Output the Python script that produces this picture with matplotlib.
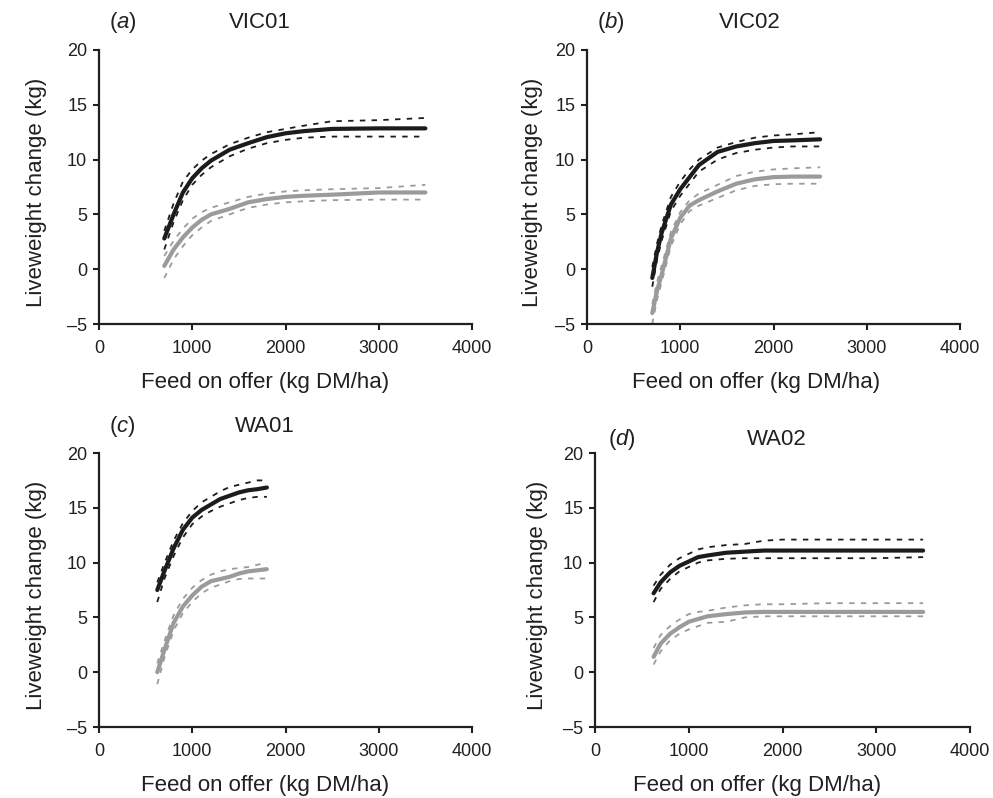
import matplotlib
matplotlib.use("Agg")
import matplotlib.pyplot as plt

plt.rcParams["font.family"] = ["Liberation Sans", "DejaVu Sans"]
plt.rcParams["mathtext.fontset"] = "custom"
plt.rcParams["mathtext.it"] = "Liberation Sans:italic"
plt.rcParams["mathtext.rm"] = "Liberation Sans"

# ---- VIC01 ----
vic01_x = [700, 800, 900, 1000, 1100, 1200, 1400, 1600, 1800, 2000, 2200, 2500, 3000, 3500]
vic01_black = [2.8, 5.0, 7.0, 8.3, 9.2, 9.9, 10.9, 11.5, 12.05, 12.4, 12.6, 12.8, 12.85, 12.85]
vic01_black_hi = [3.5, 6.0, 8.0, 9.1, 9.9, 10.5, 11.4, 12.0, 12.5, 12.8, 13.1, 13.5, 13.6, 13.8]
vic01_black_lo = [1.8, 4.3, 6.3, 7.7, 8.6, 9.3, 10.3, 11.0, 11.5, 11.8, 12.0, 12.1, 12.1, 12.1]
vic01_grey = [0.3, 1.8, 2.9, 3.8, 4.5, 5.0, 5.5, 6.1, 6.4, 6.6, 6.7, 6.8, 7.0, 7.0]
vic01_grey_hi = [1.2, 2.6, 3.7, 4.6, 5.2, 5.6, 6.1, 6.6, 6.9, 7.1, 7.2, 7.3, 7.4, 7.7]
vic01_grey_lo = [-0.8, 0.9, 2.1, 3.1, 3.8, 4.4, 5.0, 5.6, 5.9, 6.1, 6.2, 6.3, 6.35, 6.35]

# ---- VIC02 ----
vic02_x = [700, 750, 800, 900, 1000, 1100, 1200, 1400, 1600, 1800, 2000, 2200, 2500]
vic02_black = [-0.8, 1.5, 3.3, 5.9, 7.3, 8.4, 9.5, 10.7, 11.2, 11.5, 11.7, 11.75, 11.85]
vic02_black_hi = [0.2, 2.3, 4.0, 6.6, 8.0, 9.1, 10.0, 11.1, 11.6, 12.0, 12.2, 12.3, 12.5]
vic02_black_lo = [-1.6, 0.8, 2.6, 5.3, 6.7, 7.8, 8.9, 10.0, 10.6, 10.9, 11.1, 11.2, 11.2]
vic02_grey = [-4.0, -2.0, -0.5, 2.8, 4.7, 5.8, 6.3, 7.1, 7.8, 8.2, 8.4, 8.45, 8.45]
vic02_grey_hi = [-3.2, -1.2, 0.3, 3.4, 5.2, 6.3, 6.9, 7.7, 8.5, 8.9, 9.1, 9.2, 9.3]
vic02_grey_lo = [-5.0, -2.8, -1.2, 2.1, 4.1, 5.3, 5.8, 6.5, 7.2, 7.6, 7.75, 7.8, 7.8]

# ---- WA01 ----
wa01_x = [625, 700, 800, 900, 1000, 1100, 1200, 1300, 1400, 1500, 1600, 1700, 1800]
wa01_black = [7.5, 9.2, 11.3, 13.0, 14.1, 14.8, 15.3, 15.8, 16.1, 16.4, 16.6, 16.7, 16.85]
wa01_black_hi = [8.2, 9.9, 12.0, 13.6, 14.7, 15.5, 16.0, 16.5, 16.9, 17.1, 17.3, 17.5, 17.5]
wa01_black_lo = [6.4, 8.5, 10.6, 12.3, 13.5, 14.2, 14.7, 15.1, 15.4, 15.7, 15.9, 16.0, 16.0]
wa01_grey = [0.0, 2.0, 4.5, 6.0, 7.0, 7.8, 8.3, 8.5, 8.7, 9.0, 9.2, 9.3, 9.4]
wa01_grey_hi = [0.8, 2.8, 5.2, 6.7, 7.7, 8.4, 8.9, 9.2, 9.4, 9.5, 9.6, 9.8, 10.0]
wa01_grey_lo = [-1.1, 1.3, 3.8, 5.4, 6.4, 7.2, 7.7, 8.0, 8.3, 8.5, 8.55, 8.55, 8.55]

# ---- WA02 ----
wa02_x = [625, 700, 800, 900, 1000, 1100, 1200, 1400, 1600, 1800, 2000, 2500, 3000, 3500]
wa02_black = [7.2, 8.2, 9.1, 9.7, 10.1, 10.5, 10.65, 10.9, 11.0, 11.1, 11.1, 11.1, 11.1, 11.1]
wa02_black_hi = [7.9, 8.9, 9.8, 10.4, 10.8, 11.2, 11.4, 11.6, 11.7, 12.0, 12.1, 12.1, 12.1, 12.1]
wa02_black_lo = [6.4, 7.6, 8.5, 9.2, 9.6, 10.0, 10.2, 10.35, 10.4, 10.4, 10.4, 10.4, 10.4, 10.5]
wa02_grey = [1.4, 2.6, 3.5, 4.1, 4.6, 4.85, 5.1, 5.3, 5.45, 5.5, 5.5, 5.5, 5.5, 5.5]
wa02_grey_hi = [2.2, 3.4, 4.2, 4.8, 5.3, 5.5, 5.6, 5.9, 6.1, 6.2, 6.2, 6.3, 6.3, 6.3]
wa02_grey_lo = [0.7, 1.9, 2.9, 3.5, 3.9, 4.2, 4.5, 4.6, 5.0, 5.1, 5.1, 5.1, 5.1, 5.1]

panel_letters = ["a", "b", "c", "d"]
panel_sites = ["VIC01", "VIC02", "WA01", "WA02"]
x_ticks = [0, 1000, 2000, 3000, 4000]
y_ticks = [-5, 0, 5, 10, 15, 20]
x_label = "Feed on offer (kg DM/ha)"
y_label = "Liveweight change (kg)"

panels = [
    (vic01_x, vic01_black, vic01_black_hi, vic01_black_lo, vic01_grey, vic01_grey_hi, vic01_grey_lo),
    (vic02_x, vic02_black, vic02_black_hi, vic02_black_lo, vic02_grey, vic02_grey_hi, vic02_grey_lo),
    (wa01_x, wa01_black, wa01_black_hi, wa01_black_lo, wa01_grey, wa01_grey_hi, wa01_grey_lo),
    (wa02_x, wa02_black, wa02_black_hi, wa02_black_lo, wa02_grey, wa02_grey_hi, wa02_grey_lo),
]

W, H = 993, 798
# axes boxes in pixels: left, top, right, bottom
boxes = [(99, 50, 472, 324), (587, 50, 960, 324), (99, 453, 472, 727), (595, 453, 970, 727)]
# text placement (axes fractions)
letter_pos = [(0.027, 1.10), (0.027, 1.10), (0.027, 1.095), (0.035, 1.05)]
site_pos = [(0.432, 1.10), (0.437, 1.10), (0.444, 1.095), (0.485, 1.05)]
xlab_pos = [0.446, 0.452, 0.446, 0.432]
ylab_pos = [-0.168, -0.147, -0.168, -0.152]

BLACK = "#1c1c1c"
GREY = "#9b9b9b"
AXC = "#231f20"

fig = plt.figure(figsize=(W / 100, H / 100), dpi=100)

for i, (l, t, r, b) in enumerate(boxes):
    ax = fig.add_axes([l / W, 1 - b / H, (r - l) / W, (b - t) / H])
    x, bk, bkh, bkl, gy, gyh, gyl = panels[i]

    dash = dict(lw=1.3, dashes=(3, 3.5))
    ax.plot(x, gyh, color=GREY, **dash)
    ax.plot(x, gyl, color=GREY, **dash)
    ax.plot(x, bkh, color=BLACK, **dash)
    ax.plot(x, bkl, color=BLACK, **dash)
    ax.plot(x, gy, color=GREY, lw=3.0, solid_capstyle="round")
    ax.plot(x, bk, color=BLACK, lw=3.0, solid_capstyle="round")

    ax.set_xlim(0, 4000)
    ax.set_ylim(-5, 20)
    ax.set_xticks(x_ticks)
    ax.set_yticks(y_ticks)
    ax.set_yticklabels([f"{v}".replace("-", "\u2013") for v in y_ticks])
    for s in ("top", "right"):
        ax.spines[s].set_visible(False)
    for s in ("left", "bottom"):
        ax.spines[s].set_linewidth(1.6)
        ax.spines[s].set_color(AXC)
    ax.tick_params(direction="out", length=4.5, width=1.5, colors=AXC,
                   labelsize=13, labelcolor="#231f20")
    ax.tick_params(axis="x", pad=7)
    ax.tick_params(axis="y", pad=4)

    ax.text(xlab_pos[i], -0.212, x_label, transform=ax.transAxes,
            ha="center", va="center", fontsize=16, color="#231f20")
    ax.text(ylab_pos[i], 0.48, y_label, transform=ax.transAxes, rotation=90,
            ha="center", va="center", fontsize=16, color="#231f20")
    ax.text(letter_pos[i][0], letter_pos[i][1], "($\\mathit{%s}$)" % panel_letters[i],
            transform=ax.transAxes, ha="left", va="center", fontsize=16, color="#231f20")
    ax.text(site_pos[i][0], site_pos[i][1], panel_sites[i], transform=ax.transAxes,
            ha="center", va="center", fontsize=16, color="#231f20")

fig.savefig("out.png", dpi=100)
